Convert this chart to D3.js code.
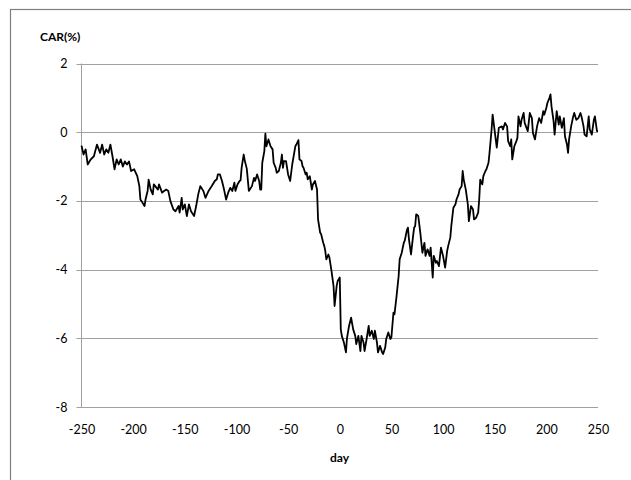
<!DOCTYPE html>
<html><head><meta charset="utf-8">
<script src="https://cdn.jsdelivr.net/npm/d3@7"></script>
<style>html,body{margin:0;padding:0;background:#fff;}svg{display:block;}</style>
</head><body>
<script>
const days = [-250,-248,-246,-244,-241,-238,-235,-232,-230,-228,-226,-224,-222,-220,-218,-216,-214,-212,-210,-208,-206,-204,-202,-199,-196,-194,-193,-191,-189,-188,-186,-185,-183,-181,-180,-176,-175,-172,-170,
-168,-166,-164,-161,-159,-156,-155,-153,-152,-150,-148,-146,-144,-141,-139,-137,-135,-132,-130,-127,-125,-123,-121,-119,-118,-116,-114,-112,-110,-108,-106,-104,-102,-101,-99,-97,-96,-95,-93,-92,-90,-88,-85,-83,-82,-80,-78,-77,-76,-75,-73,-72,-71,-69,-67,-65,-64,-62,-61,-59,-57,-56,-55,-54,-52,-50,-48,-46,-43,-42,-40,-39,-37,-36,-35,-33,-32,-31,-29,-27,-26,-24,-22,-21,-19,-18,-16,-15,-14,-13,-11,-10,-8,-6,-5,-3,-2,0,
1,2,4,6,7,9,11,13,15,16,18,20,21,23,24,26,28,29,31,33,34,36,37,39,41,42,44,45,47,49,50,52,53,55,57,58,60,62,63,65,66,67,69,71,72,73,74,76,78,80,82,83,85,87,88,90,91,93,94,96,98,100,102,104,105,107,108,110,112,113,115,116,118,119,120,122,124,125,127,129,130,132,134,135,136,138,139,141,142,144,145,147,148,150,151,152,154,157,158,160,162,163,165,166,167,169,171,172,173,175,176,178,179,182,184,186,187,189,191,193,195,197,198,200,201,203,204,205,207,208,210,212,213,215,217,218,220,221,222,224,226,227,229,231,233,234,236,237,239,241,242,244,246,247,249,250];
const car = [-0.39,-0.65,-0.50,-0.94,-0.79,-0.70,-0.36,-0.60,-0.36,-0.65,-0.50,-0.60,-0.36,-0.70,-1.08,-0.79,-0.94,-0.79,-1.00,-0.85,-0.94,-0.85,-1.13,-1.08,-1.28,-1.57,-1.96,-2.05,-2.15,-1.96,-1.71,-1.38,-1.67,-1.81,-1.52,-1.67,-1.52,-1.76,-1.71,
-1.67,-1.71,-2.00,-2.25,-2.30,-2.15,-2.34,-1.91,-2.25,-2.10,-2.44,-2.10,-2.30,-2.44,-2.15,-1.81,-1.57,-1.71,-1.91,-1.71,-1.62,-1.52,-1.42,-1.37,-1.23,-1.23,-1.42,-1.67,-1.96,-1.76,-1.62,-1.71,-1.47,-1.71,-1.52,-1.42,-1.40,-1.04,-0.65,-0.82,-1.06,-1.71,-1.57,-1.33,-1.42,-1.23,-1.42,-1.67,-1.67,-0.89,-0.55,-0.04,-0.41,-0.21,-0.41,-0.50,-0.89,-1.04,-1.18,-1.13,-0.89,-0.65,-1.04,-0.84,-0.84,-1.23,-1.42,-0.94,-0.41,-0.36,-0.23,-0.79,-0.84,-0.99,-1.04,-1.23,-1.18,-1.37,-1.28,-1.67,-1.52,-1.42,-1.67,-2.54,-2.92,-2.97,-3.22,-3.31,-3.46,-3.70,-3.56,-3.65,-4.04,-4.48,-5.06,-4.48,-4.33,-4.23,
-5.74,-5.93,-6.12,-6.41,-6.00,-5.64,-5.40,-5.74,-5.93,-6.17,-5.93,-6.37,-5.93,-6.12,-6.37,-6.02,-5.64,-5.93,-5.78,-6.02,-5.78,-6.12,-6.41,-6.22,-6.41,-6.46,-6.27,-6.02,-5.83,-6.02,-5.97,-5.25,-5.30,-4.77,-4.19,-3.70,-3.51,-3.22,-3.15,-2.85,-2.78,-3.12,-3.56,-3.02,-2.78,-2.73,-2.39,-2.44,-2.93,-3.51,-3.22,-3.60,-3.41,-3.60,-3.36,-4.23,-3.60,-3.80,-3.75,-3.90,-3.36,-3.60,-3.94,-3.45,-3.31,-3.07,-2.73,-2.20,-2.10,-1.96,-1.81,-1.67,-1.57,-1.13,-1.38,-1.67,-2.10,-2.59,-2.15,-2.25,-2.54,-2.49,-2.34,-1.96,-1.38,-1.52,-1.28,-1.13,-1.08,-0.89,-0.60,0.08,0.51,0.03,-0.21,-0.45,0.13,0.17,0.08,0.27,0.17,-0.26,-0.41,-0.21,-0.79,-0.41,-0.26,-0.16,0.46,0.17,0.36,0.56,0.27,0.03,0.56,0.41,-0.02,-0.21,0.17,0.41,0.27,0.61,0.51,0.71,0.85,1.00,1.10,0.75,0.32,-0.07,0.61,0.22,0.46,0.13,0.41,-0.12,-0.36,-0.60,-0.21,0.17,0.46,0.56,0.36,0.41,0.56,0.46,0.17,-0.07,-0.12,0.46,0.08,-0.07,0.36,0.46,0.03,0.03];
const xTicks = [-250,-200,-150,-100,-50,0,50,100,150,200,250];
const yTicks = [-8,-6,-4,-2,0,2];
const yTitle = "CAR(%)";
const xTitle = "day";

const W = 631, H = 480;
const svg = d3.select("body").append("svg").attr("width", W).attr("height", H);
const font = "Lato, 'Open Sans', sans-serif";

svg.append("rect").attr("x",10.5).attr("y",9.5).attr("width",640).attr("height",490)
  .attr("fill","#fff").attr("stroke","#7f7f7f").attr("stroke-width",1.2);

const x = d3.scaleLinear().domain([-250,250]).range([81.5,598]);
const y = d3.scaleLinear().domain([-8,2]).range([407,63.5]);

// gridlines
svg.append("g").selectAll("line").data(yTicks).join("line")
  .attr("x1",76.5).attr("x2",598).attr("y1",d=>Math.round(y(d))+0.5).attr("y2",d=>Math.round(y(d))+0.5)
  .attr("stroke","#a0a0a0").attr("stroke-width",1);
// y axis line
svg.append("line").attr("x1",81.5).attr("x2",81.5).attr("y1",y(2)).attr("y2",y(-8)+0.5)
  .attr("stroke","#a0a0a0").attr("stroke-width",1);

// y tick labels
const yAxis = d3.axisLeft(y).tickValues(yTicks).tickSize(0).tickPadding(14).tickFormat(d=>String(d));
const gy = svg.append("g").attr("transform","translate(81.5,0)").call(yAxis);
gy.select(".domain").remove();
gy.selectAll("text").attr("font-family",font).attr("font-size",12.5).attr("fill","#000");

// x tick labels
const xAxis = d3.axisBottom(x).tickValues(xTicks).tickSize(0).tickPadding(18).tickFormat(d=>String(d));
const gx = svg.append("g").attr("transform","translate(0,407)").call(xAxis);
gx.select(".domain").remove();
gx.selectAll("text").attr("font-family",font).attr("font-size",12.5).attr("fill","#000");

// line
const pts = days.map((d,i)=>[d,car[i]]);
svg.append("path").datum(pts)
  .attr("d", d3.line().x(d=>x(d[0])).y(d=>y(d[1])))
  .attr("fill","none").attr("stroke","#000").attr("stroke-width",1.8).attr("stroke-linejoin","round");

svg.append("text").attr("x",40).attr("y",41).text(yTitle)
  .attr("font-family",font).attr("font-size",12).attr("font-weight","bold");
svg.append("text").attr("x",339.5).attr("y",462).attr("text-anchor","middle").text(xTitle)
  .attr("font-family",font).attr("font-size",12).attr("font-weight","bold");
</script>
</body></html>
